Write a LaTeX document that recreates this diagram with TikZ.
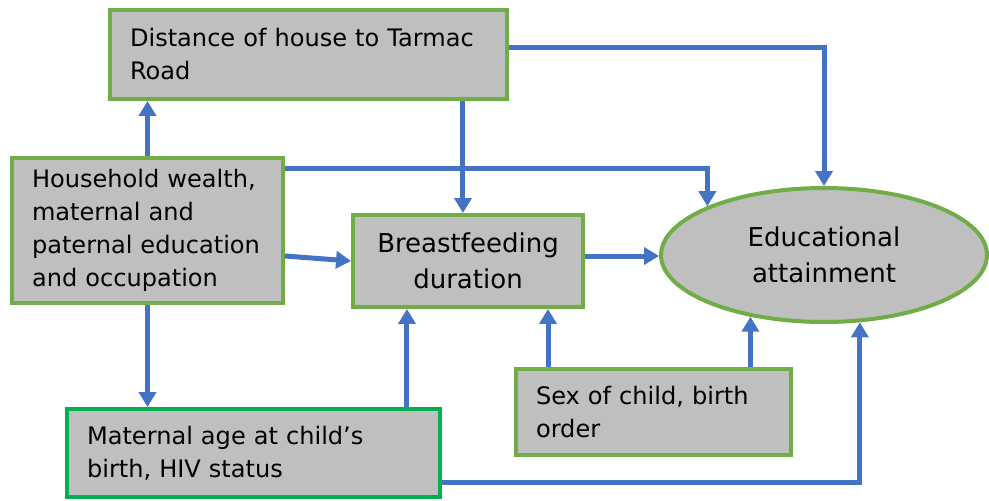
\documentclass[tikz,border=0pt]{standalone}
\usepackage{fontspec}
\setmainfont{DejaVu Sans}
\usetikzlibrary{arrows.meta, positioning, shapes.geometric}
\definecolor{boxgreen}{HTML}{70AD47}
\definecolor{brightgreen}{HTML}{00B050}
\definecolor{boxgray}{HTML}{BFBFBF}
\definecolor{linkblue}{HTML}{4472C4}

\begin{document}
\begin{tikzpicture}[
    x=0.02cm, y=-0.02cm,
    box/.style={rectangle, draw=boxgreen, fill=boxgray, line width=0.08cm, inner xsep=0.4cm, align=left, font=\fontsize{13.7}{18.8}\selectfont},
    bigtext/.style={font=\fontsize{14.8}{20.2}\selectfont},
    arrow/.style={-{Triangle[length=0.3cm, width=0.34cm]}, draw=linkblue, line width=0.1cm}
]
    \useasboundingbox (0,0) rectangle (989,500);

    \node[box, text width=7.14cm, minimum height=1.78cm] (dist) at (308.5,54.5) {Distance of house to Tarmac\\Road};
    \node[box, text width=4.62cm, minimum height=2.9cm] (house) at (147.5,230.5) {Household wealth,\\maternal and\\paternal education\\and occupation};
    \node[box, bigtext, text width=3.8cm, minimum height=1.84cm, align=center] (brst) at (468,261) {Breastfeeding\\duration};
    \node[box, bigtext, ellipse, minimum width=6.52cm, minimum height=2.68cm, inner sep=0pt, align=center] (edu) at (824,255) {Educational\\attainment};
    \node[box, draw=brightgreen, text width=6.66cm, minimum height=1.76cm] (mat) at (253.5,453) {Maternal age at child’s\\birth, HIV status};
    \node[box, text width=4.7cm, minimum height=1.72cm] (sex) at (653.5,412) {Sex of child, birth\\order};

    \draw[arrow] (house.north) -- (house.north |- dist.south);
    \draw[arrow] ([yshift=0.15cm]dist.east) -| (edu.north);
    \draw[arrow] ([xshift=3.09cm]dist.south) -- ([xshift=3.09cm]dist.south |- brst.north);
    \draw[arrow] ([yshift=-0.24cm]house.north east) -| (edu.north west);
    \draw[arrow] ([yshift=-0.51cm]house.east) -- (brst.west);
    \draw[arrow] (house.south) -- (house.south |- mat.north);
    \draw[arrow] ([xshift=3.07cm]mat.north) -- ([xshift=3.07cm]mat.north |- brst.south);
    \draw[arrow] ([yshift=-0.58cm]mat.east) -| (edu.-62.6);
    \draw[arrow] ([xshift=-2.11cm]sex.north) -- ([xshift=-2.11cm]sex.north |- brst.south);
    \draw[arrow] (sex.north -| edu.-140.6) -- (edu.-140.6);
    \draw[arrow] ([yshift=0.1cm]brst.east) -- ([yshift=0.1cm]brst.east -| edu.west);
\end{tikzpicture}
\end{document}
